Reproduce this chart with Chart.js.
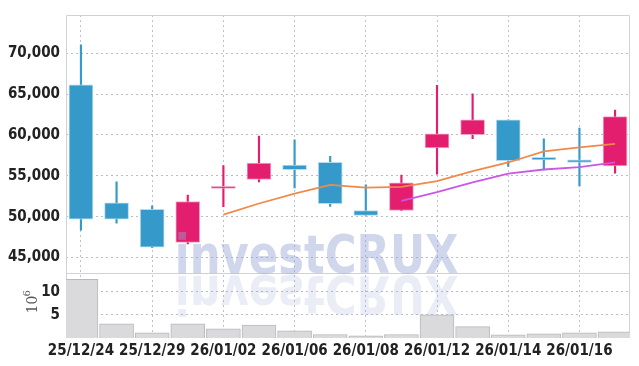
<!DOCTYPE html>
<html lang="en">

<head>
    <meta charset="UTF-8">
    <title>candles</title>
    <script src="https://cdn.jsdelivr.net/npm/chart.js"></script>
    <style>
        html, body { margin: 0; padding: 0; background: #fff; }
        #wrap { width: 639px; height: 366px; }
    </style>
</head>

<body>
    <div id="wrap"><canvas id="candleChart"></canvas></div>
    <script>
        const dates = ['25/12/24', '25/12/26', '25/12/29', '25/12/30', '26/01/02', '26/01/05', '26/01/06', '26/01/07',
            '26/01/08', '26/01/09', '26/01/12', '26/01/13', '26/01/14', '26/01/15', '26/01/16', '26/01/19'];
        const opens = [66150, 51700, 50900, 46850, 53450, 54550, 56300, 56650, 50750, 50750, 58400, 60050, 61850, 57250, 56950, 56200];
        const closes = [49700, 49700, 46250, 51850, 53700, 56550, 55750, 51600, 50150, 54150, 60150, 61850, 56850, 56950, 56650, 62250];
        const highs = [71050, 54250, 51330, 52650, 56260, 59870, 59420, 57380, 53900, 55100, 66070, 65040, 61850, 59540, 60830, 63060];
        const lows = [48330, 49200, 46200, 46650, 51210, 54250, 53530, 51250, 50150, 50730, 55210, 59540, 56140, 55730, 53770, 55330];
        const ma5 = [null, null, null, null, 50240, 51610, 52820, 53890, 53550, 53640, 54360, 55580, 56630, 57990, 58490, 58910];
        const ma10 = [null, null, null, null, null, null, null, null, null, 51940, 52990, 54200, 55260, 55770, 56070, 56640];
        const volumes = [12.7, 3.05, 1.1, 3.05, 2.0, 2.8, 1.55, 0.75, 0.47, 0.75, 5.0, 2.47, 0.7, 0.9, 1.1, 1.33]; // x 10^6
        const priceTicks = [45000, 50000, 55000, 60000, 65000, 70000];
        const volumeTicks = [5, 10];
        const dateTicks = [0, 2, 4, 6, 8, 10, 12, 14];

        const RED = '#e31e6e';
        const BLUE = '#3599c9';
        const labelFont = { family: '"DejaVu Sans Condensed", "Liberation Sans Narrow", sans-serif', size: 15, weight: 'bold' };

        const upDown = opens.map((o, i) => closes[i] >= o);
        const candleColor = upDown.map(up => up ? RED : BLUE);
        const candleEdge = upDown.map(up => up ? 'rgba(240,160,195,0.9)' : 'rgba(175,215,235,0.9)');

        // watermark + frame
        const decor = {
            id: 'decor',
            beforeDatasetsDraw(chart) {
                const ctx = chart.ctx, a = chart.chartArea, sep = chart.scales.y.bottom;
                ctx.save();
                ctx.strokeStyle = '#d2d2d6';
                ctx.lineWidth = 1;
                ctx.beginPath();
                ctx.moveTo(a.left + 0.5, a.bottom); ctx.lineTo(a.left + 0.5, a.top + 0.5);
                ctx.lineTo(a.right - 0.5, a.top + 0.5); ctx.lineTo(a.right - 0.5, a.bottom);
                ctx.moveTo(a.left, Math.round(sep) + 0.5); ctx.lineTo(a.right, Math.round(sep) + 0.5);
                ctx.stroke();
                ctx.restore();
            },
            afterDatasetsDraw(chart) {
                const ctx = chart.ctx, a = chart.chartArea, sep = chart.scales.y.bottom;
                const word = 'investCRUX';
                ctx.save();
                ctx.font = 'bold 54px "DejaVu Sans", sans-serif';
                const m = ctx.measureText(word);
                const sx = 280 / (m.actualBoundingBoxLeft + m.actualBoundingBoxRight);
                ctx.translate(a.left + 112 + m.actualBoundingBoxLeft * sx, sep);
                ctx.scale(sx, 1);
                ctx.fillStyle = 'rgba(150,165,210,0.45)';
                ctx.fillText(word, 0, 0);
                ctx.scale(1, -1);
                ctx.fillStyle = 'rgba(150,165,210,0.2)';
                ctx.fillText(word, 0, -3);
                ctx.restore();

                // 10^6 title of the volume axis
                const v = chart.scales.yv;
                ctx.save();
                ctx.translate(33, v.top + 40);
                ctx.rotate(-Math.PI / 2);
                ctx.fillStyle = '#555';
                ctx.font = '14px "DejaVu Serif", serif';
                ctx.textBaseline = 'middle';
                ctx.fillText('10', 0, 0);
                ctx.font = '10px "DejaVu Serif", serif';
                ctx.fillText('6', 17, -6);
                ctx.restore();
            }
        };

        const ctx = document.getElementById('candleChart').getContext('2d');
        new Chart(ctx, {
            type: 'bar',
            data: {
                datasets: [
                    {
                        type: 'line',
                        label: 'MA5',
                        data: ma5.map((v, i) => ({ x: i, y: v })),
                        borderColor: '#f08a4b',
                        borderWidth: 1.8,
                        pointRadius: 0,
                        tension: 0,
                        yAxisID: 'y',
                        order: 0
                    },
                    {
                        type: 'line',
                        label: 'MA10',
                        data: ma10.map((v, i) => ({ x: i, y: v })),
                        borderColor: '#c957e8',
                        borderWidth: 1.8,
                        pointRadius: 0,
                        tension: 0,
                        yAxisID: 'y',
                        order: 0
                    },
                    {
                        label: 'body',
                        data: opens.map((o, i) => ({ x: i, y: [o, closes[i]] })),
                        backgroundColor: candleColor,
                        borderColor: candleEdge,
                        borderWidth: 1,
                        borderSkipped: false,
                        barThickness: 24,
                        grouped: false,
                        yAxisID: 'y',
                        order: 1
                    },
                    {
                        label: 'wick',
                        data: lows.map((l, i) => ({ x: i, y: [l, highs[i]] })),
                        backgroundColor: candleColor,
                        borderWidth: 0,
                        barThickness: 1.5,
                        grouped: false,
                        yAxisID: 'y',
                        order: 2
                    },
                    {
                        label: 'volume',
                        data: volumes.map((v, i) => ({ x: i, y: v })),
                        backgroundColor: '#dadadd',
                        borderColor: '#b9b9bd',
                        borderWidth: 1,
                        borderSkipped: 'bottom',
                        barThickness: 34,
                        grouped: false,
                        yAxisID: 'yv',
                        order: 3
                    }
                ]
            },
            options: {
                animation: false,
                responsive: true,
                maintainAspectRatio: false,
                layout: { padding: { top: 9, right: 9, left: 0, bottom: 0 } },
                plugins: { legend: { display: false }, tooltip: { enabled: false } },
                scales: {
                    x: {
                        type: 'linear',
                        offset: false,
                        min: -0.42,
                        max: 15.42,
                        afterBuildTicks: s => { s.ticks = dateTicks.map(v => ({ value: v })); },
                        afterFit: s => { s.height = 28; },
                        ticks: {
                            callback: v => dates[v],
                            font: labelFont,
                            color: '#222',
                            maxRotation: 0,
                            autoSkip: false,
                            padding: 4
                        },
                        grid: { color: 'rgba(165,178,210,0.8)', drawTicks: false, offset: false },
                        border: { display: false, dash: [2, 3] }
                    },
                    yv: {
                        position: 'left',
                        stack: 'panes',
                        stackWeight: 1,
                        min: 0,
                        max: 14,
                        afterBuildTicks: s => { s.ticks = volumeTicks.map(v => ({ value: v })); },
                        afterFit: s => { s.width = 66; },
                        ticks: {
                            font: labelFont,
                            color: '#222',
                            padding: 6
                        },
                        grid: { color: 'rgba(170,170,190,0.8)', drawTicks: false },
                        border: { display: false, dash: [2, 3] }
                    },
                    y: {
                        position: 'left',
                        stack: 'panes',
                        stackWeight: 4,
                        min: 43050,
                        max: 74690,
                        afterBuildTicks: s => { s.ticks = priceTicks.map(v => ({ value: v })); },
                        afterFit: s => { s.width = 66; },
                        ticks: {
                            callback: v => v.toLocaleString('en-US'),
                            font: labelFont,
                            color: '#222',
                            padding: 6
                        },
                        grid: { color: 'rgba(170,170,190,0.8)', drawTicks: false },
                        border: { display: false, dash: [2, 3] }
                    }
                }
            },
            plugins: [decor]
        });
    </script>
</body>

</html>
